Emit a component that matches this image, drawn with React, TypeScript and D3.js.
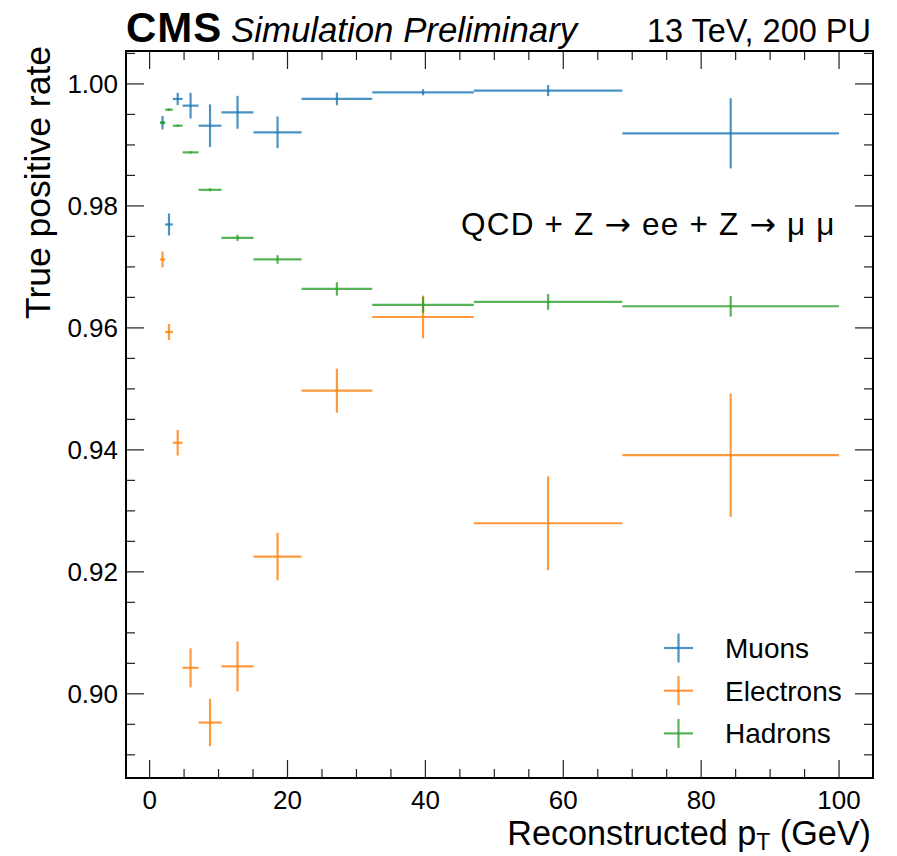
import React from "react";
import * as d3 from "d3";

// ---- data ----
const binEdges = [1.5, 2.25, 3.37, 4.78, 7.1, 10.43, 15.07, 22.04, 32.29, 47.03, 68.57, 100];
const muonRate = [0.99365, 0.97696, 0.99754, 0.99644, 0.99315, 0.99535, 0.99207, 0.99754, 0.99863, 0.9989, 0.9919];
const muonErr = [0.0011, 0.0018, 0.001, 0.0021, 0.0035, 0.0027, 0.0026, 0.00104, 0.0005, 0.0009, 0.00575];
const electronRate = [0.97122, 0.95933, 0.94117, 0.90427, 0.89529, 0.90449, 0.9225, 0.9497, 0.96179, 0.92797, 0.93913];
const electronErr = [0.0013, 0.0013, 0.0021, 0.0032, 0.0039, 0.0041, 0.0039, 0.0036, 0.0035, 0.0077, 0.0101];
const hadronRate = [0.99365, 0.99578, 0.99315, 0.98878, 0.98264, 0.97476, 0.97122, 0.96639, 0.96377, 0.96426, 0.96355];
const hadronErr = [0.0003, 0.0002, 0.0002, 0.0002, 0.00025, 0.0005, 0.0007, 0.0011, 0.0013, 0.0013, 0.0017];
const seriesNames = ["Muons", "Electrons", "Hadrons"];
const seriesColors = ["#1f77b4", "#ff7f0e", "#2ca02c"];
const xMajorTicks = [0, 20, 40, 60, 80, 100];
const yMajorTicks = [0.9, 0.92, 0.94, 0.96, 0.98, 1.0];
const yTickLabels = ["0.90", "0.92", "0.94", "0.96", "0.98", "1.00"];

const W = 897;
const H = 856;
const L = 126, R = 873, T = 51, B = 778;
const FONT = "'Liberation Sans', Arial, Helvetica, sans-serif";
const ARROW_FONT = "'DejaVu Sans', sans-serif";

export default function App() {
  const x = d3.scaleLinear().domain([-3.425, 104.925]).range([L, R]);
  const y = d3.scaleLinear().domain([0.8862, 1.0054]).range([B, T]);

  const rates = [muonRate, electronRate, hadronRate];
  const errs = [muonErr, electronErr, hadronErr];
  const series = seriesNames.map((name, s) => ({
    name,
    color: seriesColors[s],
    points: rates[s].map((v, i) => ({
      lo: binEdges[i],
      hi: binEdges[i + 1],
      c: (binEdges[i] + binEdges[i + 1]) / 2,
      v,
      e: errs[s][i],
    })),
  }));

  const xMinor = d3.range(0, 101, 5).filter((t) => t % 20 !== 0);
  const yMinor = d3
    .range(0, 25)
    .map((k) => 0.89 + k * 0.005)
    .filter((t) => t <= 1.0054 && Math.round(t * 1000) % 20 !== 0);

  const majLen = 18, minLen = 9;
  const tickStroke = "#222";

  return (
    <svg width={W} height={H} style={{ position: "absolute", left: 0, top: 0, background: "#fff" }} fontFamily={FONT}>
      <rect x={0} y={0} width={W} height={H} fill="#fff" />
      {/* error bars */}
      {series.map((s) => (
        <g key={s.name} stroke={s.color} strokeOpacity={0.8} strokeWidth={2.2} fill="none">
          {s.points.map((p, i) => (
            <g key={i}>
              <line x1={x(p.lo)} x2={x(p.hi)} y1={y(p.v)} y2={y(p.v)} />
              <line x1={x(p.c)} x2={x(p.c)} y1={y(p.v - p.e)} y2={y(p.v + p.e)} />
            </g>
          ))}
        </g>
      ))}

      {/* ticks */}
      <g stroke={tickStroke} strokeWidth={1.2}>
        {xMajorTicks.map((t) => (
          <g key={"xM" + t}>
            <line x1={x(t)} x2={x(t)} y1={B} y2={B - majLen} />
            <line x1={x(t)} x2={x(t)} y1={T} y2={T + majLen} />
          </g>
        ))}
        {xMinor.map((t) => (
          <g key={"xm" + t}>
            <line x1={x(t)} x2={x(t)} y1={B} y2={B - minLen} />
            <line x1={x(t)} x2={x(t)} y1={T} y2={T + minLen} />
          </g>
        ))}
        {yMajorTicks.map((t) => (
          <g key={"yM" + t}>
            <line x1={L} x2={L + majLen} y1={y(t)} y2={y(t)} />
            <line x1={R} x2={R - majLen} y1={y(t)} y2={y(t)} />
          </g>
        ))}
        {yMinor.map((t) => (
          <g key={"ym" + t}>
            <line x1={L} x2={L + minLen} y1={y(t)} y2={y(t)} />
            <line x1={R} x2={R - minLen} y1={y(t)} y2={y(t)} />
          </g>
        ))}
      </g>

      {/* frame */}
      <rect x={L} y={T} width={R - L} height={B - T} fill="none" stroke="#000" strokeWidth={2} />

      {/* tick labels */}
      <g fontSize={26} fill="#000">
        {xMajorTicks.map((t) => (
          <text key={"xl" + t} x={x(t)} y={808.5} textAnchor="middle">{t}</text>
        ))}
        {yMajorTicks.map((t, i) => (
          <text key={"yl" + t} x={118} y={y(t) + 9} textAnchor="end">{yTickLabels[i]}</text>
        ))}
      </g>

      {/* axis titles */}
      <text x={871} y={845} textAnchor="end" fontSize={34.2}>
        Reconstructed p<tspan fontSize={23} dy={5}>T</tspan><tspan dy={-5}> (GeV)</tspan>
      </text>
      <text transform={`translate(50,${T - 5}) rotate(-90)`} textAnchor="end" fontSize={35.5}>
        True positive rate
      </text>

      {/* header */}
      <text x={126} y={42} fontSize={42} fontWeight="bold" letterSpacing={1}>CMS</text>
      <text x={231} y={42} fontSize={34.8} fontStyle="italic">Simulation Preliminary</text>
      <text x={871} y={42} fontSize={32.5} textAnchor="end">13 TeV, 200 PU</text>

      {/* annotation */}
      <text x={461} y={235} fontSize={31.5} letterSpacing={1.2}>
        QCD + Z <tspan fontFamily={ARROW_FONT}>→</tspan> ee + Z <tspan fontFamily={ARROW_FONT}>→</tspan> μ  μ
      </text>

      {/* legend */}
      {series.map((s, i) => {
        const cy = 648 + i * 42.7;
        const cx = 678.5;
        return (
          <g key={"lg" + s.name}>
            <g stroke={s.color} strokeOpacity={0.8} strokeWidth={2.2}>
              <line x1={cx - 14.5} x2={cx + 14.5} y1={cy} y2={cy} />
              <line x1={cx} x2={cx} y1={cy - 14.5} y2={cy + 14.5} />
            </g>
            <text x={725} y={cy + 10} fontSize={28}>{s.name}</text>
          </g>
        );
      })}
    </svg>
  );
}
